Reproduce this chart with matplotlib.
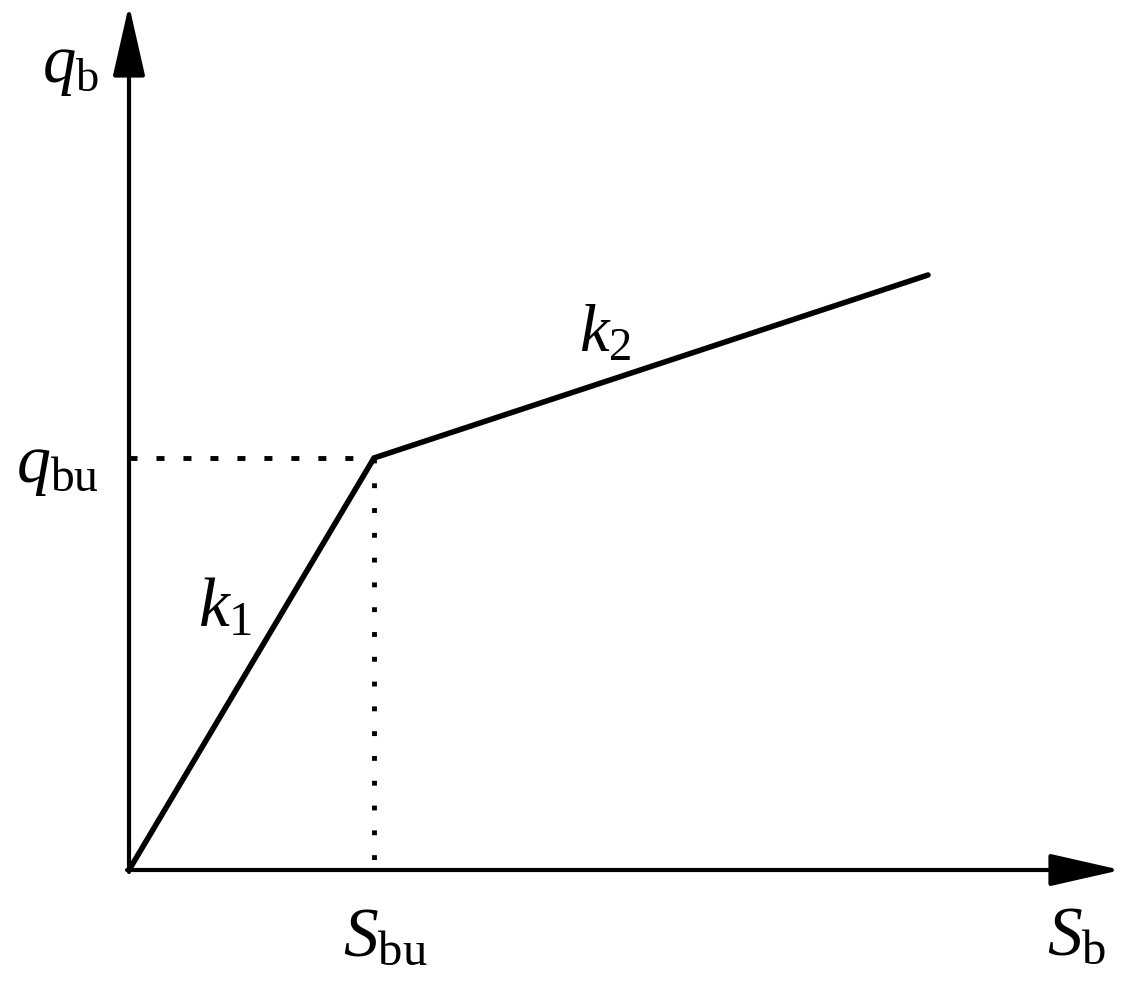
import matplotlib
matplotlib.use("Agg")
import matplotlib.pyplot as plt

# bilinear load-settlement model (arbitrary units)
S = [0.0, 2.45, 7.99]      # settlement: origin, S_bu, end
q = [0.0, 4.12, 5.95]      # load: origin, q_bu, end
S_max = 9.92               # x-axis arrow tip
q_max = 8.65               # y-axis arrow tip

plt.rcParams['mathtext.fontset'] = 'custom'
plt.rcParams['mathtext.rm'] = 'Liberation Serif'
plt.rcParams['mathtext.it'] = 'Liberation Serif:italic'

fig = plt.figure(figsize=(11.35, 9.82), dpi=100)
ax = fig.add_axes([0, 0, 1, 1])
ax.set_xlim(-1.29, 10.06)
ax.set_ylim(-1.12, 8.70)
ax.axis('off')

# axes with arrow heads
arrow = dict(arrowstyle='-|>,head_length=4.4,head_width=1.0', color='black',
             lw=3.0, mutation_scale=10, shrinkA=0, shrinkB=0)
ax.annotate('', xy=(S_max, 0), xytext=(-0.02, 0), arrowprops=arrow)
ax.annotate('', xy=(0, q_max), xytext=(0, -0.02), arrowprops=arrow)

# bilinear curve
ax.plot(S, q, color='black', lw=4.0, solid_capstyle='round', solid_joinstyle='miter')

# guide lines
ax.plot([0, S[1]], [q[1], q[1]], color='black', lw=3.5, linestyle=(0, (1.65, 3.9)))
ax.plot([S[1], S[1]], [q[1], 0], color='black', lw=3.5, linestyle=(0, (1.0, 4.1)))

# labels
ax.text(-0.30, 8.05, r'$q_{\mathrm{b}}$', fontsize=48, ha='right', va='center')
ax.text(-0.30, 4.05, r'$q_{\mathrm{bu}}$', fontsize=49, ha='right', va='center')
ax.text(S[1] + 0.11, -0.66, r'$S_{\mathrm{bu}}$', fontsize=50, ha='center', va='center')
ax.text(9.48, -0.65, r'$S_{\mathrm{b}}$', fontsize=50, ha='center', va='center')
ax.text(0.96, 2.63, r'$k_{1}$', fontsize=50, ha='center', va='center')
ax.text(4.76, 5.37, r'$k_{2}$', fontsize=48, ha='center', va='center')

fig.savefig('out.png', dpi=100)
